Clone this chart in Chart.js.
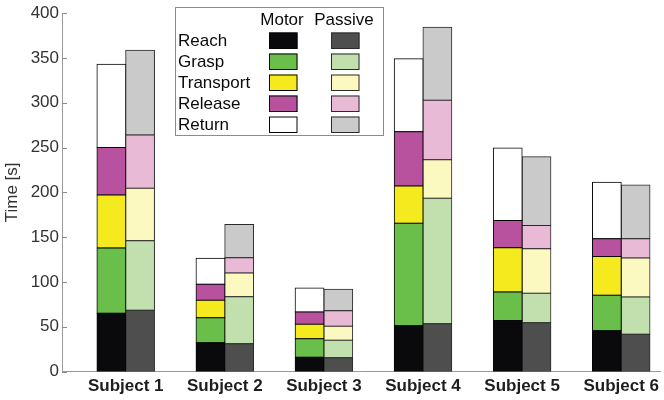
<!DOCTYPE html>
<html>
<head>
<meta charset="utf-8">
<script src="https://cdn.jsdelivr.net/npm/chart.js@4/dist/chart.umd.min.js"></script>
<style>
  html, body { margin: 0; padding: 0; background: #ffffff; }
  canvas { display: block; }
</style>
</head>
<body>
<canvas id="chart" width="664" height="400"></canvas>
<script>
// Task phase durations (seconds) per subject, motor vs passive condition
const categories = ['Subject 1', 'Subject 2', 'Subject 3', 'Subject 4', 'Subject 5', 'Subject 6'];
const phases = ['Reach', 'Grasp', 'Transport', 'Release', 'Return'];

const motorReach     = [65.0, 32.0, 16.0, 51.0, 57.0, 45.4];
const motorGrasp     = [73.0, 28.0, 20.5, 114.6, 31.8, 39.7];
const motorTransport = [59.0, 19.5, 16.3, 41.5, 49.4, 43.4];
const motorRelease   = [53.0, 18.0, 13.7, 60.5, 30.4, 19.7];
const motorReturn    = [93.0, 29.0, 26.7, 81.6, 80.8, 63.0];

const passiveReach     = [68.5, 31.0, 15.4, 53.2, 54.3, 41.7];
const passiveGrasp     = [77.5, 52.5, 19.6, 140.2, 33.0, 41.5];
const passiveTransport = [58.5, 26.5, 15.6, 43.0, 49.7, 43.4];
const passiveRelease   = [59.5, 17.0, 17.1, 66.4, 26.0, 21.6];
const passiveReturn    = [94.5, 37.0, 24.1, 81.6, 76.8, 60.1];

const yTicks = [0, 50, 100, 150, 200, 250, 300, 350, 400];

const motorColors   = ['#0a0a0c', '#6abf4b', '#f5ea1e', '#b8529e', '#ffffff'];
const passiveColors = ['#4e4e4e', '#c1e0ae', '#fbf8c0', '#e8bad6', '#cacaca'];

const motorSeries   = [motorReach, motorGrasp, motorTransport, motorRelease, motorReturn];
const passiveSeries = [passiveReach, passiveGrasp, passiveTransport, passiveRelease, passiveReturn];

const FONT = "'Liberation Sans', Arial, Helvetica, sans-serif";

function toPoints(values) {
  return values.map((v, i) => ({ x: i + 1, y: v }));
}

const datasets = [];
phases.forEach((p, k) => {
  datasets.push({
    label: 'Motor ' + p,
    stack: 'motor',
    data: toPoints(motorSeries[k]),
    backgroundColor: motorColors[k],
    borderColor: '#050505',
    borderWidth: 1,
    borderSkipped: false,
    inflateAmount: 0.5
  });
});
phases.forEach((p, k) => {
  datasets.push({
    label: 'Passive ' + p,
    stack: 'passive',
    data: toPoints(passiveSeries[k]),
    backgroundColor: passiveColors[k],
    borderColor: '#2a2a2a',
    borderWidth: 1,
    borderSkipped: false,
    inflateAmount: 0.5
  });
});

// Inward tick marks on the value axis
const innerTicks = {
  id: 'innerTicks',
  afterDatasetsDraw(chart) {
    const { ctx, chartArea, scales } = chart;
    ctx.save();
    ctx.strokeStyle = '#8a8a8a';
    ctx.lineWidth = 1;
    yTicks.forEach(t => {
      const y = Math.round(scales.y.getPixelForValue(t)) + 0.5;
      ctx.beginPath();
      ctx.moveTo(chartArea.left, y);
      ctx.lineTo(chartArea.left + 5, y);
      ctx.stroke();
    });
    ctx.restore();
  }
};

// Table-style legend: phase rows, Motor / Passive columns
const tableLegend = {
  id: 'tableLegend',
  afterDraw(chart) {
    const ctx = chart.ctx;
    const box = { x: 175.5, y: 7.5, w: 208, h: 128 };
    ctx.save();
    ctx.fillStyle = '#ffffff';
    ctx.fillRect(box.x, box.y, box.w, box.h);
    ctx.strokeStyle = '#8c8c8c';
    ctx.lineWidth = 1;
    ctx.strokeRect(box.x, box.y, box.w, box.h);

    ctx.font = '17px ' + FONT;
    ctx.fillStyle = '#0a0a0a';
    ctx.textBaseline = 'middle';
    ctx.textAlign = 'center';
    ctx.fillText('Motor', 282, 20);
    ctx.fillText('Passive', 344, 20);

    const rowY0 = 40.5, rowStep = 21;
    phases.forEach((p, k) => {
      const cy = rowY0 + k * rowStep;
      ctx.textAlign = 'left';
      ctx.fillStyle = '#0a0a0a';
      ctx.fillText(p, 178, cy + 0.5);

      ctx.fillStyle = motorColors[k];
      ctx.fillRect(269, cy - 8, 28.5, 16.5);
      ctx.strokeStyle = '#050505';
      ctx.strokeRect(269.5, cy - 7.5, 27.5, 15.5);

      ctx.fillStyle = passiveColors[k];
      ctx.fillRect(331, cy - 8, 28.5, 16.5);
      ctx.strokeStyle = '#2a2a2a';
      ctx.strokeRect(331.5, cy - 7.5, 27.5, 15.5);
    });
    ctx.restore();
  }
};

new Chart(document.getElementById('chart'), {
  type: 'bar',
  data: { datasets },
  options: {
    responsive: false,
    animation: false,
    devicePixelRatio: 1,
    layout: { padding: { top: 2, right: 0, bottom: 0, left: 0 } },
    categoryPercentage: 0.58,
    barPercentage: 1.0,
    plugins: {
      legend: { display: false },
      tooltip: { enabled: false }
    },
    scales: {
      x: {
        type: 'linear',
        offset: false,
        min: 0.357,
        max: 6.4,
        afterBuildTicks(scale) {
          scale.ticks = categories.map((c, i) => ({ value: i + 1 }));
        },
        afterFit(scale) { scale.height = 28.5; },
        grid: { display: false, drawTicks: false, offset: false },
        border: { display: true, color: '#9a9a9a', width: 1 },
        ticks: {
          autoSkip: false,
          maxRotation: 0,
          padding: 5,
          color: '#1e1e1e',
          font: { family: FONT, size: 17, weight: 'bold' },
          callback: (v) => categories[Math.round(v) - 1] || ''
        }
      },
      y: {
        stacked: true,
        min: 0,
        max: 400,
        afterBuildTicks(scale) {
          scale.ticks = yTicks.map(v => ({ value: v }));
        },
        afterFit(scale) { scale.width = 62; },
        grid: { display: false, drawTicks: false },
        border: { display: true, color: '#9a9a9a', width: 1 },
        ticks: {
          padding: 3,
          color: '#333333',
          font: { family: FONT, size: 17 }
        },
        title: {
          display: true,
          text: 'Time [s]',
          color: '#333333',
          padding: { top: 2, bottom: 0 },
          font: { family: FONT, size: 17 }
        }
      }
    }
  },
  plugins: [innerTicks, tableLegend]
});
</script>
</body>
</html>
